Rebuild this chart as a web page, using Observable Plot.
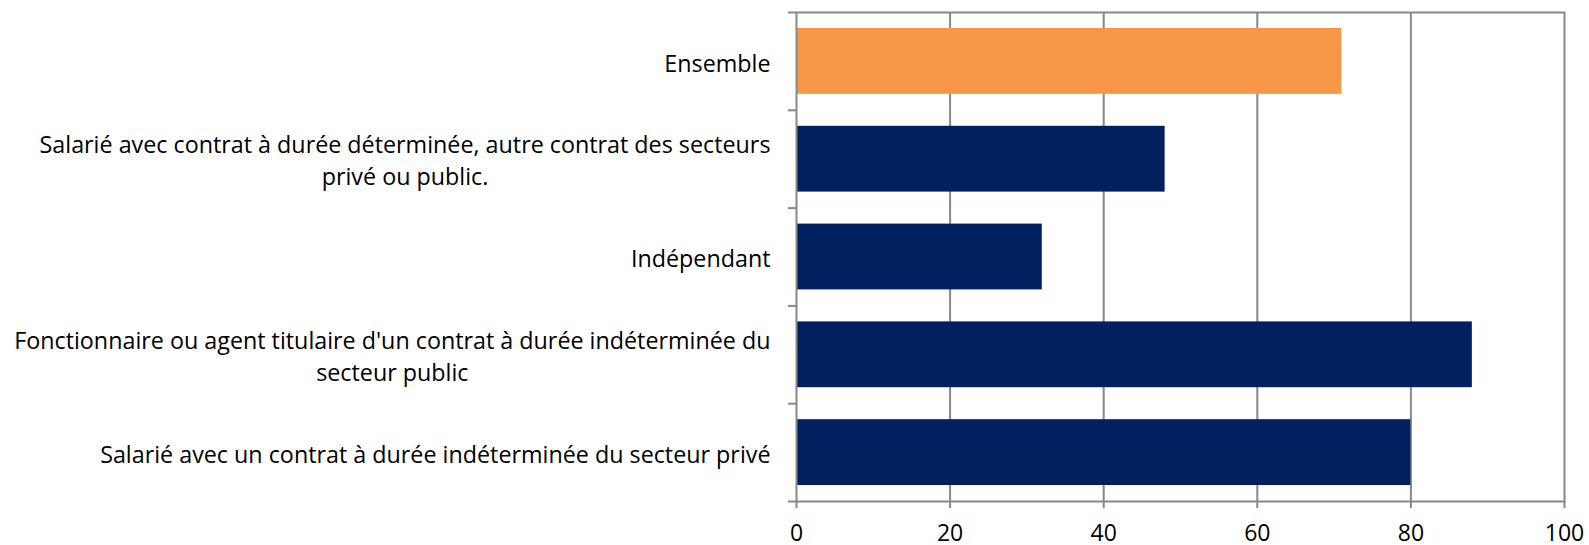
<!DOCTYPE html>
<html><head><meta charset="utf-8">
<script src="https://cdn.jsdelivr.net/npm/d3@7"></script>
<script src="https://cdn.jsdelivr.net/npm/@observablehq/plot@0.6"></script>
<style>body{margin:0;background:#fff}</style>
</head><body><div id="chart"></div>
<script>
const categories = [
  "Ensemble",
  "Salarié avec contrat à durée déterminée, autre contrat des secteurs\nprivé ou public.",
  "Indépendant",
  "Fonctionnaire ou agent titulaire d'un contrat à durée indéterminée du\nsecteur public",
  "Salarié avec un contrat à durée indéterminée du secteur privé"
];
const values = [71, 48, 32, 88, 80];
const barColors = ["#F79646", "#002060", "#002060", "#002060", "#002060"];
const xTicks = [0, 20, 40, 60, 80, 100];

const rows = categories.map((label, i) => ({label, value: values[i], color: barColors[i], i}));
const gray = "#888888";

const plot = Plot.plot({
  width: 1589,
  height: 545,
  marginLeft: 796,
  marginRight: 25,
  marginTop: 12,
  marginBottom: 44,
  style: {fontFamily: "'Open Sans', sans-serif", fontSize: "23px", background: "#fff", color: "#000"},
  x: {domain: [0, 100]},
  y: {type: "linear", domain: [0, categories.length], reverse: true},
  marks: [
    Plot.gridX({ticks: xTicks.slice(1, -1), stroke: gray, strokeOpacity: 1, strokeWidth: 2}),
    Plot.rectX(rows, {x1: 0, x2: "value", y1: d => d.i, y2: d => d.i + 1, insetTop: 16, insetBottom: 16, fill: "color"}),
    Plot.axisX({ticks: xTicks, tickSize: 7, tickPadding: 16, stroke: gray, strokeWidth: 2, strokeOpacity: 1, fill: "#000", fontSize: 23, label: null}),
    Plot.axisY({ticks: d3.range(categories.length + 1), tickSize: 8, tickFormat: () => "", stroke: gray, strokeWidth: 2, strokeOpacity: 1, label: null}),
    Plot.text(rows, {frameAnchor: "left", y: d => d.i + 0.5, text: "label", textAnchor: "end", dx: -26, lineHeight: 32 / 23.3, fontSize: 23.3, fill: "#000"}),
    Plot.frame({stroke: gray, strokeWidth: 2})
  ]
});
document.getElementById("chart").appendChild(plot);

// centre the lines of each label inside its block (right edge fixed)
plot.querySelectorAll("text").forEach(t => {
  const spans = t.querySelectorAll("tspan");
  if (spans.length > 1) {
    const w = t.getBBox().width;
    t.setAttribute("text-anchor", "middle");
    spans.forEach(s => s.setAttribute("x", -w / 2));
  }
});
</script>
</body></html>
